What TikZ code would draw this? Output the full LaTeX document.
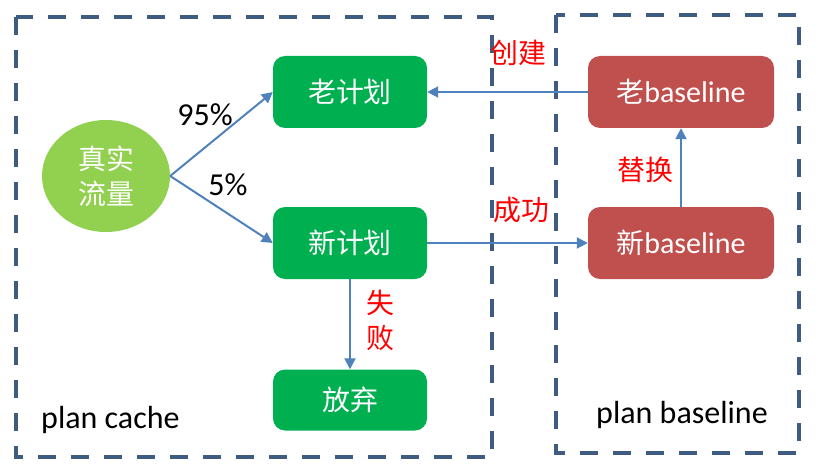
\documentclass[tikz,border=0pt]{standalone}
\usepackage{fontspec}
\setmainfont{Carlito}
\newfontfamily\cjk[Scale=0.93]{Noto Sans CJK SC}
\usetikzlibrary{shapes.geometric,arrows.meta}
\definecolor{boxline}{RGB}{62,91,130}
\definecolor{flowblue}{RGB}{79,129,189}
\definecolor{plangreen}{RGB}{0,176,80}
\definecolor{trafficgreen}{RGB}{146,208,80}
\definecolor{baselinered}{RGB}{192,80,77}

\begin{document}
\begin{tikzpicture}[x=1pt,y=-1pt,font=\fontsize{30}{35}\selectfont,
  region/.style={draw=boxline, line width=4.5pt, dash pattern=on 18pt off 15pt},
  plan/.style={rounded corners=12pt, fill=plangreen, text=white, minimum width=154pt, minimum height=72pt, inner sep=0pt},
  base/.style={plan, fill=baselinered, minimum width=186pt},
  link/.style={draw=flowblue, line width=2pt, -{Triangle[length=11pt,width=11pt]}},
  note/.style={text=red, align=center, inner sep=0pt},
  tag/.style={font=\fontsize{32}{37}\selectfont, inner sep=0pt},
]
\useasboundingbox (0,0) rectangle (821,473);

% the two dashed regions
\draw[region] (16,17) rectangle (492,457);
\draw[region] (556,15) rectangle (799,453);
\node[tag, anchor=west] (cachelabel) at (41,420) {plan cache};
\node[tag] (baselinelabel) at (682,415) {plan baseline};

% plan cache side
\node[ellipse, fill=trafficgreen, text=white, minimum width=128pt, minimum height=112pt, inner sep=0pt, align=center] (traffic) at (106,176) {\cjk 真实\\\cjk 流量};
\node[plan] (oldplan) at (350,92) {\cjk 老计划};
\node[plan] (newplan) at (350,243) {\cjk 新计划};
\node[plan, minimum height=61pt] (drop) at (350,400) {\cjk 放弃};

% plan baseline side
\node[base] (oldbase) at (681,92) {{\cjk 老}baseline};
\node[base] (newbase) at (681,243) {{\cjk 新}baseline};

\draw[link] (traffic.east) -- (oldplan.west);
\draw[link] (traffic.east) -- (newplan.west);
\draw[link] (oldbase.west) -- (oldplan.east);
\draw[link] (newplan.east) -- (newbase.west);
\draw[link] (newbase.north) -- (oldbase.south);
\draw[link] (newplan.south) -- (drop.north);

\node[tag] (p95) at (205,115) {95\%};
\node[tag] (p5) at (228,185) {5\%};
\node[note] (create) at (518,53) {\cjk 创建};
\node[note] (success) at (521,210) {\cjk 成功};
\node[note] (replace) at (645,170) {\cjk 替换};
\node[note] (fail) at (380,320) {\cjk 失\\\cjk 败};

\end{tikzpicture}
\end{document}
